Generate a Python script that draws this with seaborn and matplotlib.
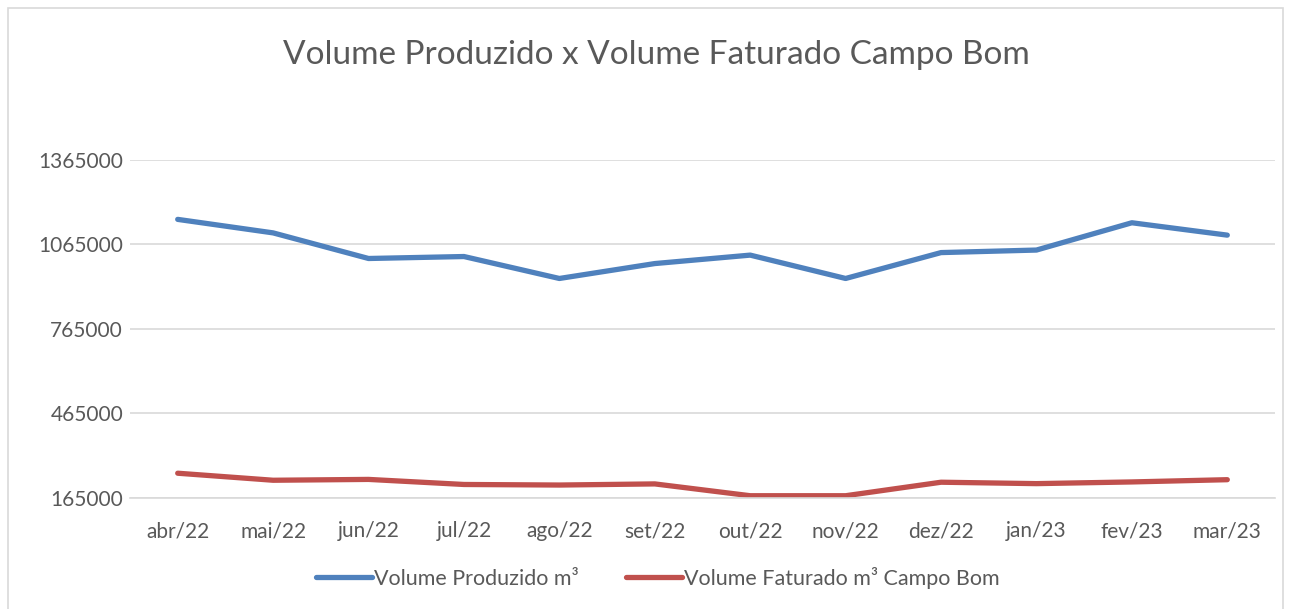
import pandas as pd
import numpy as np
import matplotlib.pyplot as plt
import seaborn as sns
from matplotlib.patches import Rectangle

meses = ['abr/22', 'mai/22', 'jun/22', 'jul/22', 'ago/22', 'set/22',
         'out/22', 'nov/22', 'dez/22', 'jan/23', 'fev/23', 'mar/23']
produzido = [1154000, 1106000, 1015000, 1022000, 944000, 997000,
             1027000, 944000, 1036000, 1045000, 1142000, 1098000]
faturado = [252000, 227000, 230000, 212000, 210000, 214000,
            172000, 172000, 220000, 215000, 221000, 229000]
series = ['Volume Produzido m³', 'Volume Faturado m³ Campo Bom']
yticks = [165000, 465000, 765000, 1065000, 1365000]

df = pd.DataFrame({
    'mes': meses * 2,
    'x': list(range(len(meses))) * 2,
    'volume': produzido + faturado,
    'serie': [series[0]] * len(meses) + [series[1]] * len(meses),
})

sns.set_style('white')
plt.rcParams['font.family'] = ['Lato', 'DejaVu Sans']
cinza = '#595959'

fig = plt.figure(figsize=(12.9, 6.09), dpi=100)
ax = fig.add_axes([130 / 1290, 1 - 497.7 / 609, (1275 - 130) / 1290, (497.7 - 160) / 609])

sns.lineplot(data=df, x='x', y='volume', hue='serie', hue_order=series,
             palette=['#4F81BD', '#C0504D'], linewidth=3.8, ax=ax,
             solid_capstyle='round', legend=True)

ax.set_xlim(-0.5, len(meses) - 0.5)
ax.set_ylim(yticks[0], yticks[-1])
ax.set_xticks(range(len(meses)))
ax.set_xticklabels(meses)
ax.set_yticks(yticks)
ax.set_yticklabels([str(v) for v in yticks])
ax.tick_params(axis='both', labelsize=15, colors=cinza, length=0)
ax.tick_params(axis='x', pad=17)
ax.tick_params(axis='y', pad=5)
ax.grid(axis='y', color='#D9D9D9', linewidth=1.2)
ax.set_axisbelow(True)
for s in ['top', 'right', 'left']:
    ax.spines[s].set_visible(False)
ax.spines['bottom'].set_color('#D9D9D9')
ax.spines['bottom'].set_linewidth(1.2)
ax.set_xlabel('')
ax.set_ylabel('')

fig.text(656 / 1290, 1 - 55 / 609, 'Volume Produzido x Volume Faturado Campo Bom',
         ha='center', va='center', fontsize=24, color=cinza)

handles, labels = ax.get_legend_handles_labels()
ax.legend(handles, labels, loc='center', bbox_to_anchor=(658 / 1290, 1 - 578 / 609),
          bbox_transform=fig.transFigure, ncol=2, frameon=False, fontsize=15.5,
          labelcolor=cinza, handlelength=2.6, handletextpad=0.1, columnspacing=2.2)

fig.patches.append(Rectangle((8 / 1290, -0.01), 1275 / 1290, 1 - 8 / 609 + 0.01,
                             transform=fig.transFigure, fill=False,
                             edgecolor='#D9D9D9', linewidth=1.2))

fig.savefig('out.png', dpi=100, facecolor='white')
